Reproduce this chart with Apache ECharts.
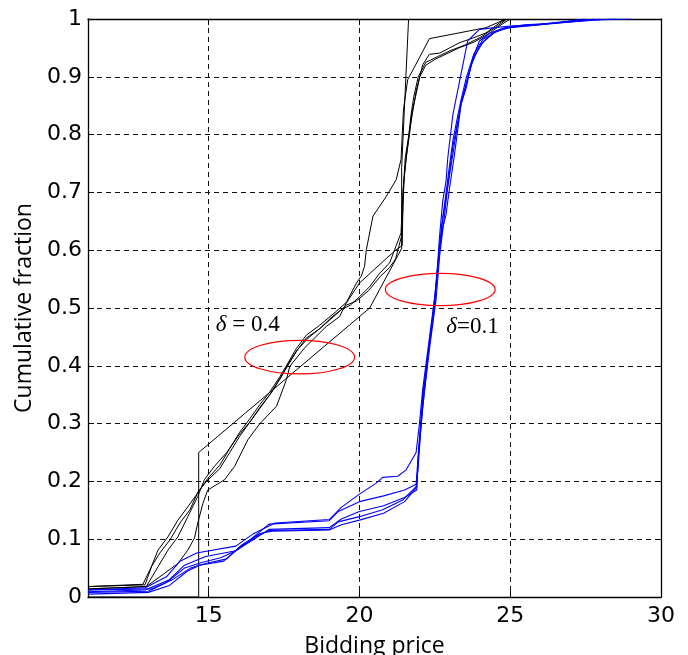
<!DOCTYPE html>
<html><head><meta charset="utf-8">
<script src="https://cdn.jsdelivr.net/npm/echarts@6/dist/echarts.min.js"></script>
<style>html,body{margin:0;padding:0;background:#fff}#c{width:688px;height:655px}</style>
</head><body><div id="c"></div>
<script>
const xTickLabels = [15, 20, 25, 30];
const xMin = 11, xMax = 30;
const yMin = 0, yMax = 1, yStep = 0.1;

// delta = 0.4 curves (black)
const black1 = [[11,0],[14.67,0],[14.67,0.25],[20.34,0.5],[21.4,0.603],[21.4,0.743],[21.63,1.0]];
const black2 = [[11,0.014],[12.93,0.018],[13.54,0.041],[13.98,0.058],[14.31,0.081],[14.53,0.102],[14.64,0.128],[14.81,0.162],[14.97,0.185],[15.53,0.203],[15.86,0.226],[16.3,0.272],[16.7,0.3],[17.25,0.33],[17.58,0.376],[17.69,0.399],[18.2,0.432],[18.9,0.468],[19.34,0.485],[19.57,0.509],[20.0,0.543],[20.5,0.567],[20.9,0.586],[21.2,0.6],[21.42,0.608],[21.45,0.7],[21.52,0.76],[21.66,0.806],[21.88,0.875],[22.1,0.921],[22.32,0.939],[22.66,0.941],[22.99,0.95],[23.32,0.959],[23.76,0.967],[24.2,0.976],[24.64,0.993],[24.86,1.0]];
const black3 = [[11,0.018],[12.82,0.022],[13.1,0.052],[13.32,0.081],[13.65,0.104],[13.98,0.133],[14.31,0.156],[14.64,0.18],[14.97,0.205],[15.37,0.228],[15.7,0.257],[16.03,0.285],[16.36,0.308],[16.7,0.333],[17.03,0.355],[17.36,0.381],[17.6,0.402],[17.91,0.43],[18.24,0.453],[18.68,0.47],[19.23,0.494],[19.57,0.51],[19.9,0.543],[20.06,0.555],[20.17,0.572],[20.23,0.601],[20.45,0.659],[20.89,0.693],[21.22,0.722],[21.38,0.757],[21.46,0.843],[21.6,0.895],[21.99,0.933],[22.32,0.966],[24.2,0.985],[24.86,1.0]];
const black4 = [[11,0.014],[12.93,0.018],[13.32,0.052],[13.65,0.081],[13.98,0.104],[14.31,0.139],[14.64,0.174],[14.86,0.203],[15.19,0.226],[15.6,0.25],[16.0,0.28],[16.4,0.305],[16.75,0.33],[17.1,0.355],[17.4,0.38],[17.65,0.405],[17.95,0.428],[18.3,0.448],[18.7,0.465],[19.1,0.485],[19.4,0.497],[19.7,0.505],[20.01,0.52],[20.34,0.537],[20.67,0.56],[21.0,0.578],[21.38,0.63],[21.44,0.7],[21.5,0.736],[21.6,0.78],[21.7,0.83],[21.8,0.865],[21.95,0.9],[22.2,0.925],[22.6,0.935],[23.0,0.945],[23.5,0.955],[24.0,0.968],[24.5,0.985],[24.9,1.0]];
const black5 = [[11,0.018],[12.89,0.021],[13.11,0.053],[13.38,0.076],[13.72,0.099],[14.05,0.128],[14.38,0.151],[14.65,0.182],[14.93,0.2],[15.37,0.222],[15.7,0.25],[16.03,0.278],[16.36,0.302],[16.7,0.328],[17.03,0.35],[17.36,0.378],[17.58,0.396],[17.91,0.425],[18.24,0.448],[18.68,0.464],[19.23,0.489],[19.57,0.505],[19.9,0.512],[20.3,0.53],[20.7,0.555],[21.0,0.57],[21.2,0.585],[21.4,0.625],[21.43,0.66],[21.48,0.72],[21.55,0.76],[21.66,0.8],[21.75,0.84],[21.88,0.87],[22.0,0.9],[22.2,0.92],[22.5,0.93],[22.9,0.94],[23.3,0.95],[23.8,0.96],[24.3,0.975],[24.7,0.99],[25.0,1.0]];

// delta = 0.1 curves (blue)
const blue1 = [[11,0.012],[12.9,0.016],[13.6,0.035],[14.05,0.062],[14.6,0.076],[15.9,0.088],[16.5,0.11],[17.2,0.128],[19.0,0.134],[19.4,0.155],[20.0,0.178],[20.56,0.197],[20.77,0.207],[21.27,0.209],[21.55,0.22],[21.88,0.25],[21.99,0.3],[22.1,0.36],[22.3,0.44],[22.5,0.52],[22.6,0.58],[22.65,0.62],[22.76,0.684],[22.87,0.719],[22.93,0.76],[23.1,0.835],[23.32,0.892],[23.59,0.962],[23.98,0.982],[24.5,0.985],[25.0,0.988],[26.0,0.991],[27.0,0.997],[27.5,1.0]];
const blue2 = [[11,0.009],[12.9,0.012],[13.7,0.03],[14.2,0.055],[14.9,0.07],[15.9,0.08],[16.4,0.1],[17.0,0.126],[19.0,0.132],[19.3,0.148],[20.0,0.165],[20.8,0.175],[21.5,0.185],[21.88,0.195],[21.97,0.26],[22.1,0.35],[22.3,0.43],[22.5,0.51],[22.62,0.58],[22.72,0.64],[22.85,0.69],[22.97,0.74],[23.1,0.79],[23.25,0.83],[23.37,0.86],[23.55,0.9],[23.8,0.94],[24.1,0.965],[24.6,0.98],[25.0,0.985],[26.0,0.99],[27.0,0.995],[28.0,0.999],[29.0,1.0]];
const blue3 = [[11,0.005],[13.0,0.008],[13.7,0.02],[14.3,0.045],[14.7,0.055],[15.5,0.062],[16.0,0.085],[16.6,0.105],[17.0,0.115],[19.0,0.117],[19.3,0.13],[20.0,0.139],[20.77,0.151],[21.44,0.168],[21.88,0.191],[21.94,0.22],[22.05,0.3],[22.2,0.38],[22.35,0.45],[22.5,0.52],[22.65,0.6],[22.76,0.638],[22.87,0.661],[22.99,0.708],[23.15,0.765],[23.27,0.812],[23.37,0.852],[23.54,0.881],[23.76,0.933],[23.98,0.962],[24.3,0.975],[24.8,0.985],[25.5,0.99],[26.5,0.993],[27.5,0.998],[28.5,1.0]];
const blue4 = [[11,0.008],[13.0,0.01],[13.6,0.025],[14.2,0.05],[14.8,0.06],[15.4,0.068],[15.9,0.08],[16.5,0.1],[17.0,0.117],[19.0,0.12],[19.4,0.135],[20.0,0.148],[20.8,0.158],[21.5,0.172],[21.9,0.185],[21.96,0.25],[22.1,0.34],[22.3,0.43],[22.5,0.51],[22.64,0.6],[22.78,0.66],[22.9,0.7],[23.05,0.75],[23.2,0.8],[23.35,0.85],[23.5,0.88],[23.7,0.92],[24.0,0.955],[24.4,0.975],[25.0,0.987],[26.0,0.991],[27.0,0.995],[28.0,1.0]];
const blue5 = [[11,0.012],[13.1,0.014],[13.8,0.03],[14.4,0.05],[14.9,0.058],[15.6,0.066],[16.1,0.09],[16.7,0.11],[17.1,0.114],[19.0,0.116],[19.4,0.125],[20.0,0.133],[20.8,0.145],[21.5,0.165],[21.9,0.19],[21.95,0.24],[22.1,0.33],[22.32,0.428],[22.54,0.514],[22.66,0.59],[22.8,0.65],[22.95,0.72],[23.1,0.78],[23.25,0.82],[23.4,0.86],[23.6,0.9],[23.8,0.935],[24.1,0.96],[24.5,0.978],[25.0,0.986],[26.0,0.99],[27.0,0.996],[27.8,1.0]];

// annotations: ellipse centre x, centre y, half-width, half-height (data units)
const ellipses = [[18.02, 0.415, 1.82, 0.029], [22.68, 0.532, 1.82, 0.028]];
// labels: left x, centre y, symbol, rest
const labels = [[15.24, 0.471, 'δ', ' = 0.4'], [22.88, 0.468, 'δ', '=0.1']];

const blacks = [black1, black2, black3, black4, black5];
const blues = [blue1, blue2, blue3, blue4, blue5];

const chart = echarts.init(document.getElementById('c'), null, {renderer: 'canvas'});

const tickFont = {fontFamily: 'DejaVu Sans', fontSize: 22, color: '#000'};
const dash = {type: [5, 4], color: '#111', width: 1};

const series = [];
blacks.forEach(d => series.push({type: 'line', data: d, symbol: 'none', showSymbol: false, animation: false, z: 3,
  lineStyle: {color: '#000', width: 1}}));
blues.forEach(d => series.push({type: 'line', data: d, symbol: 'none', showSymbol: false, animation: false, z: 4,
  lineStyle: {color: '#0000ff', width: 1.1}}));
series.push({type: 'custom', data: ellipses, animation: false, z: 5, silent: true,
  renderItem: (params, api) => {
    const c = api.coord([api.value(0), api.value(1)]);
    const e = api.coord([api.value(0) + api.value(2), api.value(1) + api.value(3)]);
    const rx = e[0] - c[0], ry = c[1] - e[1];
    const pd = 'M' + (c[0] - rx) + ' ' + c[1] +
      ' A' + rx + ' ' + ry + ' 0 1 0 ' + (c[0] + rx) + ' ' + c[1] +
      ' A' + rx + ' ' + ry + ' 0 1 0 ' + (c[0] - rx) + ' ' + c[1] + ' Z';
    return {type: 'path',
      shape: {pathData: pd, x: c[0] - rx, y: c[1] - ry, width: 2 * rx, height: 2 * ry, layout: 'cover'},
      style: {fill: null, stroke: '#ff0000', lineWidth: 1.2}};
  }});
series.push({type: 'custom', data: labels, animation: false, z: 6, silent: true,
  renderItem: (params, api) => {
    const p = api.coord([api.value(0), api.value(1)]);
    const d = labels[params.dataIndex];
    return {type: 'text', x: p[0], y: p[1],
      style: {text: '{i|' + d[2] + '}{n|' + d[3] + '}', align: 'left', verticalAlign: 'middle',
        rich: {i: {fontFamily: 'Liberation Serif', fontStyle: 'italic', fontSize: 23, fill: '#000'},
               n: {fontFamily: 'Liberation Serif', fontSize: 23, fill: '#000'}}}};
  }});

chart.setOption({
  backgroundColor: '#fff',
  animation: false,
  grid: {left: 88, top: 19, right: 27, bottom: 58, containLabel: false, outerBoundsMode: 'none'},
  xAxis: [{
    type: 'value', min: xMin, max: xMax, splitNumber: 4, position: 'bottom',
    axisLine: {show: true, onZero: false, lineStyle: {color: '#000', width: 1.3}},
    axisTick: {show: true, inside: true, length: 6, lineStyle: {color: '#000'}},
    axisLabel: Object.assign({margin: 8, formatter: v => xTickLabels.includes(v) ? String(v) : ''}, tickFont),
    splitLine: {show: true, lineStyle: dash},
    name: 'Bidding price', nameLocation: 'middle', nameGap: 38,
    nameTextStyle: {fontFamily: 'Open Sans', fontSize: 23, color: '#000'}
  }, {
    type: 'value', min: xMin, max: xMax, splitNumber: 4, position: 'top',
    axisLine: {show: true, onZero: false, lineStyle: {color: '#000', width: 1.3}},
    axisTick: {show: true, inside: true, length: 6, lineStyle: {color: '#000'}},
    axisLabel: {show: false}, splitLine: {show: false}
  }],
  yAxis: [{
    type: 'value', min: yMin, max: yMax, interval: yStep, position: 'left',
    axisLine: {show: true, onZero: false, lineStyle: {color: '#000', width: 1.3}},
    axisTick: {show: true, inside: true, length: 6, lineStyle: {color: '#000'}},
    axisLabel: Object.assign({margin: 6}, tickFont),
    splitLine: {show: true, lineStyle: dash},
    name: 'Cumulative fraction', nameLocation: 'middle', nameGap: 52,
    nameTextStyle: {fontFamily: 'Open Sans', fontSize: 23, color: '#000'}
  }, {
    type: 'value', min: yMin, max: yMax, interval: yStep, position: 'right',
    axisLine: {show: true, onZero: false, lineStyle: {color: '#000', width: 1.3}},
    axisTick: {show: true, inside: true, length: 6, lineStyle: {color: '#000'}},
    axisLabel: {show: false}, splitLine: {show: false}
  }],
  series: series
});
</script></body></html>
